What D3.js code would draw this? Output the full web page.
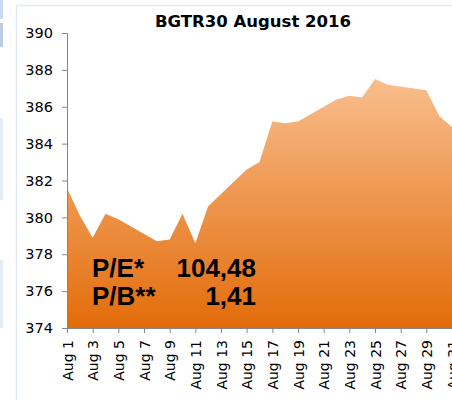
<!DOCTYPE html>
<html>
<head>
<meta charset="utf-8">
<script src="https://cdn.jsdelivr.net/npm/d3@7"></script>
<style>
  html, body { margin: 0; padding: 0; background: #fff; }
  svg { display: block; }
</style>
</head>
<body>
<svg width="452" height="400"></svg>
<script>
// data (trading days only)
var days = [1, 2, 3, 4, 5, 8, 9, 10, 11, 12, 15, 16, 17, 18, 19, 22, 23, 24, 25, 26, 29, 30, 31];
var values = [381.6, 380.1, 378.9, 380.2, 379.9, 378.7, 378.8, 380.2, 378.6, 380.6, 382.6, 383.0,
              385.2, 385.1, 385.2, 386.4, 386.6, 386.5, 387.5, 387.2, 386.9, 385.5, 384.9];
var tickDays = [1, 3, 5, 7, 9, 11, 13, 15, 17, 19, 21, 23, 25, 27, 29, 31];
var yTicks = [374, 376, 378, 380, 382, 384, 386, 388, 390];
var title = 'BGTR30 August 2016';
var ratioLabels = ['P/E*', 'P/B**'];
var ratioValues = ['104,48', '1,41'];

var svg = d3.select('svg');

// bits of neighbouring page elements on the left edge
svg.append('rect').attr('x', 0).attr('y', 0).attr('width', 3).attr('height', 19).attr('fill', '#c6d9f0');
svg.append('rect').attr('x', 0).attr('y', 23).attr('width', 3).attr('height', 24).attr('fill', '#b9cde5');
svg.append('rect').attr('x', 0).attr('y', 118).attr('width', 3).attr('height', 82).attr('fill', '#e6edf7');
svg.append('rect').attr('x', 0).attr('y', 260).attr('width', 3).attr('height', 68).attr('fill', '#e6edf7');

// panel border
svg.append('path')
    .attr('d', 'M16.5,400V5.5H452')
    .attr('fill', 'none')
    .attr('stroke', '#e3e9f2')
    .attr('stroke-width', 1.5);

var xScale = d3.scaleLinear().domain([1, 31]).range([67, 452]);
var yScale = d3.scaleLinear().domain([374, 390]).range([328, 33]);

var grad = svg.append('defs').append('linearGradient')
    .attr('id', 'fillGrad')
    .attr('gradientUnits', 'userSpaceOnUse')
    .attr('x1', 0).attr('x2', 0)
    .attr('y1', yScale(388)).attr('y2', yScale(374));
grad.append('stop').attr('offset', '0%').attr('stop-color', '#f9c192');
grad.append('stop').attr('offset', '100%').attr('stop-color', '#e36c0a');

var area = d3.area()
    .x(function(d, i) { return xScale(days[i]); })
    .y0(yScale(374))
    .y1(function(d) { return yScale(d); });

svg.append('path')
    .datum(values)
    .attr('d', area)
    .attr('fill', 'url(#fillGrad)');

// axes
var yAxis = d3.axisLeft(yScale).tickValues(yTicks).tickSize(5).tickPadding(9);
var yG = svg.append('g').attr('transform', 'translate(67,0)').call(yAxis);
yG.select('.domain').attr('stroke', '#868686');
yG.selectAll('.tick line').attr('stroke', '#868686');
yG.selectAll('text')
    .attr('font-family', 'DejaVu Sans')
    .attr('font-size', 14.5)
    .attr('fill', '#000');

var xAxis = d3.axisBottom(xScale).tickValues(tickDays).tickSize(5).tickSizeOuter(0)
    .tickFormat(function(d) { return 'Aug ' + d; });
var xG = svg.append('g').attr('transform', 'translate(0,328)').call(xAxis);
xG.select('.domain').attr('stroke', '#868686');
xG.selectAll('.tick line').attr('stroke', '#868686');
xG.selectAll('text')
    .attr('font-family', 'DejaVu Sans')
    .attr('font-size', 14)
    .attr('fill', '#000')
    .attr('text-anchor', 'end')
    .attr('dy', null)
    .attr('y', 0)
    .attr('transform', 'translate(5,12) rotate(-90)');

// title
svg.append('text')
    .attr('x', 253).attr('y', 27)
    .attr('text-anchor', 'middle')
    .attr('font-family', 'DejaVu Sans')
    .attr('font-weight', 'bold')
    .attr('font-size', 16.5)
    .text(title);

// ratios
var baselines = [277, 305];
ratioLabels.forEach(function(lbl, i) {
    svg.append('text')
        .attr('x', 92).attr('y', baselines[i])
        .attr('font-family', 'Liberation Sans')
        .attr('font-weight', 'bold')
        .attr('font-size', 26)
        .text(lbl);
    svg.append('text')
        .attr('x', 256).attr('y', baselines[i])
        .attr('text-anchor', 'end')
        .attr('font-family', 'Liberation Sans')
        .attr('font-weight', 'bold')
        .attr('font-size', 26)
        .text(ratioValues[i]);
});
</script>
</body>
</html>
